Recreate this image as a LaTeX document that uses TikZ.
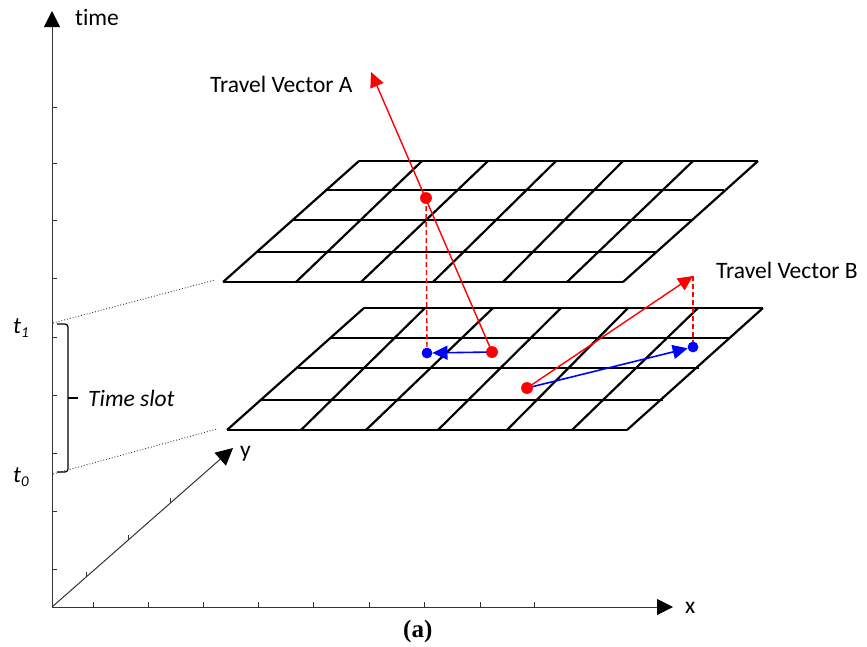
\documentclass[tikz,border=0pt]{standalone}
\usepackage{fontspec}
\setmainfont{Carlito}[Ligatures=NoCommon]
\newfontfamily\serifbold{Liberation Serif}
\usetikzlibrary{arrows.meta}
\begin{document}
\begin{tikzpicture}[x=1pt,y=-1pt,
  axisline/.style={line width=1pt, draw=black!80},
  axistick/.style={line width=1pt, draw=black!80},
  axishead/.style={-{Triangle[length=#1,width=#1,color=black]}},
  gridline/.style={line width=2.2pt, draw=black},
  guide/.style={line width=0.9pt, dotted, draw=black!80},
  bracepath/.style={line width=1.2pt, draw=black},
  redvec/.style={line width=1.4pt, draw=red, -{Triangle[length=15pt,width=14pt]}},
  reddash/.style={line width=1.4pt, draw=red, dash pattern=on 5pt off 3pt},
  bluevec/.style={line width=1.6pt, draw=blue, -{Triangle[length=15pt,width=14pt]}},
  reddot/.style={circle, fill=red, inner sep=0pt, minimum size=11.5pt},
  bluedot/.style={circle, fill=blue, inner sep=0pt, minimum size=10.5pt},
  lbl/.style={anchor=base west, inner sep=0pt, font=\fontsize{23.5}{28}\selectfont},
  ilbl/.style={anchor=base west, inner sep=0pt, font=\fontsize{23.5}{28}\selectfont\itshape}
]
\useasboundingbox (0,0) rectangle (867,646);

% ---------- axes ----------
\coordinate (O) at (52,607);
\coordinate (Ttip) at (52,11);
\coordinate (Xtip) at (673,607);
\coordinate (Ytip) at (233,448);
\draw[axisline, axishead=16pt] (O) -- (Ttip);
\draw[axisline, axishead=16pt] (O) -- (Xtip);
\draw[axisline, axishead=17pt] (O) -- (Ytip);
\foreach \ty in {107,163,220,278,337,395,453,511,569}
  \draw[axistick] (52,\ty) -- (57,\ty);
\foreach \tx in {93,148,203,258,313,369,424,480,534}
  \draw[axistick] (\tx,607) -- (\tx,602);
\foreach \dx/\dy in {86/577,128/540,170/503}
  \draw[axistick] (\dx,\dy) -- (\dx,\dy-5);

\node[lbl] (timelbl) at (75,25) {time};
\node[lbl] (xlbl) at (685,613) {x};
\node[lbl] (ylbl) at (240,457) {y};
\node[ilbl] (t1lbl) at (13,333) {t\raisebox{-4pt}{\fontsize{15}{15}\selectfont 1}};
\node[ilbl] (t0lbl) at (13,482) {t\raisebox{-4pt}{\fontsize{15}{15}\selectfont 0}};

% ---------- dotted guides ----------
\coordinate (g1a) at (53,323);
\coordinate (g1b) at (215,280);
\coordinate (g0a) at (53,474);
\coordinate (g0b) at (217,429);
\draw[guide] (g1a) -- (g1b);
\draw[guide] (g0a) -- (g0b);

% ---------- brace ----------
\draw[bracepath] (57,324) -- (65,324) to[out=0,in=90] (68,327) -- (68,469)
  to[out=-90,in=0] (65,472) -- (57,472);
\draw[bracepath] (68,398) -- (78,398);
\node[ilbl] (slotlbl) at (88,406) {Time slot};

% ---------- upper grid ----------
\foreach \xa/\ya/\xb in {359/161/758, 325/190/724, 293/220/692, 258/252/657, 223/282/623}
  \draw[gridline] (\xa,\ya) -- (\xb,\ya);
\foreach \xa/\xb in {359/223, 422/296, 488/361, 556/433, 623/503, 693/567, 758/623}
  \draw[gridline] (\xa,161) -- (\xb,282);

% ---------- lower grid ----------
\foreach \xa/\ya/\xb in {364/308/763, 331/338/729, 298/368/699, 262/400/663, 227/430/627}
  \draw[gridline] (\xa,\ya) -- (\xb,\ya);
\foreach \xa/\xb in {364/227, 425/301, 493/366, 561/438, 628/507, 698/572, 763/627}
  \draw[gridline] (\xa,308) -- (\xb,430);

% ---------- travel vectors ----------
\node[reddot] (rA1) at (426,198) {};
\node[reddot] (rA0) at (492,352) {};
\node[bluedot] (bA) at (427,353) {};
\node[reddot] (rB0) at (527,388) {};
\node[bluedot] (bB) at (693,347) {};
\coordinate (tipA) at (371,72);
\coordinate (tipB) at (693,276);

\draw[reddash] (rA1.center) -- (bA.center);
\draw[reddash] (tipB) -- (bB.center);
\draw[redvec] (rA0.center) -- (tipA);
\draw[redvec] (rB0.center) -- (tipB);
\draw[bluevec] (rA0.center) -- (bA);
\draw[bluevec] (rB0.center) -- (bB);
\node[reddot] at (rA1) {};
\node[reddot] at (rA0) {};
\node[reddot] at (rB0) {};
\node[bluedot] at (bA) {};
\node[bluedot] at (bB) {};

\node[lbl] (lblA) at (210,92) {Travel Vector A};
\node[lbl] (lblB) at (716,278) {Travel Vector B};

\node[anchor=base west, inner sep=0pt, font=\serifbold\bfseries\fontsize{25}{30}\selectfont] (caption) at (403,637) {(a)};
\end{tikzpicture}
\end{document}
